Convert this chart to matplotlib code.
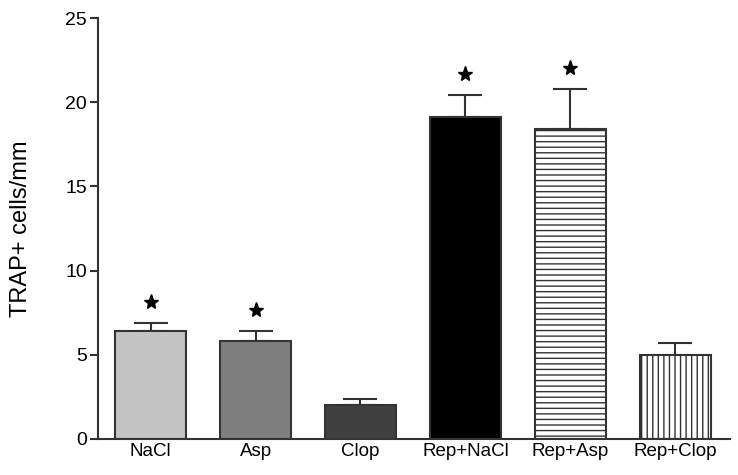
import matplotlib.pyplot as plt
import numpy as np

plt.rcParams['font.family'] = ['Liberation Sans', 'DejaVu Sans']
plt.rcParams['hatch.linewidth'] = 1.0
plt.rcParams['hatch.color'] = '#333333'

groups = ["NaCl", "Asp", "Clop", "Rep+NaCl", "Rep+Asp", "Rep+Clop"]
means = [6.4, 5.8, 2.0, 19.1, 18.4, 5.0]
errors = [0.5, 0.6, 0.35, 1.3, 2.4, 0.7]
significant = [True, True, False, True, True, False]
colors = ["#c4c4c4", "#7f7f7f", "#404040", "#000000", "#ffffff", "#ffffff"]
hatches = [None, None, None, None, "---", "|||"]

fig = plt.figure(figsize=(7.38, 4.75), dpi=100)
ax = fig.add_axes([0.133, 0.076, 0.856, 0.886])

x = np.arange(len(groups))
for i in range(len(groups)):
    ax.bar(x[i], means[i], width=0.68, color=colors[i], edgecolor="#333333",
           linewidth=1.5, hatch=hatches[i], zorder=2)
    ax.errorbar(x[i], means[i], yerr=[[0], [errors[i]]], fmt="none",
                ecolor="#333333", elinewidth=1.5, capsize=12, capthick=1.5, zorder=1)
    if significant[i]:
        ax.plot(x[i], means[i] + errors[i] + 1.25, marker="*", color="black",
                markersize=11, zorder=3)

ax.set_xlim(-0.5, 5.52)
ax.set_ylim(0, 25)
ax.set_yticks([0, 5, 10, 15, 20, 25])
ax.set_xticks(x)
ax.set_xticklabels(groups, fontsize=13.5)
ax.tick_params(axis="x", length=0, pad=3)
ax.tick_params(axis="y", labelsize=14, length=6, width=1.5, color="#333333", pad=2)
ax.set_ylabel("TRAP+ cells/mm", fontsize=17, labelpad=24)

for s in ["top", "right"]:
    ax.spines[s].set_visible(False)
for s in ["left", "bottom"]:
    ax.spines[s].set_linewidth(1.5)
    ax.spines[s].set_color("#333333")

fig.savefig("out.png", dpi=100)
